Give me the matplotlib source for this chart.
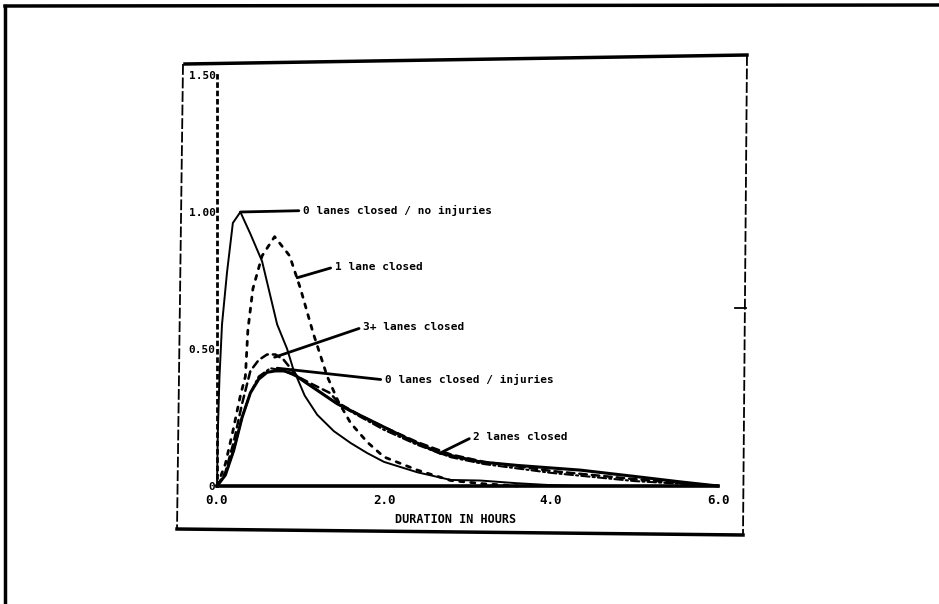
import matplotlib
matplotlib.use("Agg")
import matplotlib.pyplot as plt
from matplotlib.lines import Line2D

# ---------------- data (duration in hours vs. density) ----------------
x_no_inj = [0, 0.01, 0.03, 0.06, 0.12, 0.19, 0.28, 0.40, 0.54, 0.72, 0.84, 0.91, 1.05, 1.2,
            1.4, 1.6, 1.8, 2.0, 2.4, 2.8, 3.15, 3.6, 3.95, 4.3]
y_no_inj = [0, 0.20, 0.40, 0.59, 0.78, 0.96, 1.00, 0.92, 0.82, 0.59, 0.50, 0.43, 0.33, 0.26,
            0.20, 0.157, 0.12, 0.088, 0.05, 0.022, 0.02, 0.01, 0.004, 0.0]

x_one = [0, 0.1, 0.19, 0.28, 0.34, 0.37, 0.43, 0.54, 0.69, 0.87, 1.0, 1.15, 1.32, 1.45,
         1.6, 1.8, 2.0, 2.4, 2.8, 3.2, 3.6]
y_one = [0, 0.08, 0.20, 0.33, 0.40, 0.57, 0.72, 0.84, 0.91, 0.84, 0.72, 0.56, 0.40, 0.31,
         0.23, 0.16, 0.106, 0.058, 0.02, 0.008, 0.0]

x_three = [0, 0.1, 0.2, 0.3, 0.40, 0.5, 0.6, 0.7, 0.8, 0.96, 1.15, 1.35, 1.47, 1.7, 2.0,
           2.4, 2.8, 3.2, 4.0, 5.0, 6.0]
y_three = [0, 0.05, 0.16, 0.30, 0.42, 0.46, 0.48, 0.48, 0.46, 0.40, 0.37, 0.34, 0.30, 0.26,
           0.215, 0.16, 0.115, 0.088, 0.055, 0.025, 0.0]

x_inj = [0, 0.1, 0.2, 0.3, 0.4, 0.5, 0.64, 0.8, 0.95, 1.2, 1.44, 1.7, 2.0, 2.4, 2.8, 3.2,
         4.0, 5.0, 6.0]
y_inj = [0, 0.04, 0.13, 0.25, 0.34, 0.40, 0.43, 0.42, 0.40, 0.35, 0.30, 0.255, 0.205, 0.15,
         0.105, 0.08, 0.048, 0.018, 0.0]

x_two = [0, 0.1, 0.2, 0.3, 0.4, 0.5, 0.6, 0.7, 0.8, 0.91, 1.1, 1.44, 1.7, 2.0, 2.3, 2.67,
         3.15, 3.6, 4.35, 5.0, 5.55, 6.0]
y_two = [0, 0.04, 0.13, 0.25, 0.34, 0.39, 0.415, 0.42, 0.42, 0.41, 0.37, 0.30, 0.26, 0.215,
         0.17, 0.12, 0.088, 0.075, 0.058, 0.035, 0.015, 0.0]

x_ticks = [0.0, 2.0, 4.0, 6.0]
x_tick_labels = ["0.0", "2.0", "4.0", "6.0"]
y_ticks = [0, 0.5, 1.0, 1.5]
y_tick_labels = ["0", "0.50", "1.00", "1.50"]

labels = ["0 lanes closed / no injuries", "1 lane closed", "3+ lanes closed",
          "0 lanes closed / injuries", "2 lanes closed"]

# ---------------- figure ----------------
W, H = 939, 604
fig = plt.figure(figsize=(W / 100, H / 100), dpi=100)
fig.patch.set_facecolor("white")
FONT = "DejaVu Sans Mono"


def fx(px):
    return px / W


def fy(py):
    return 1 - py / H


def fline(xs, ys, lw=2.0, ls="-"):
    fig.add_artist(Line2D([fx(v) for v in xs], [fy(v) for v in ys], color="black",
                          lw=lw, ls=ls, transform=fig.transFigure))


# outer page frame (left and top only)
fline([5, 5], [604, 6], lw=2.5)
fline([5, 939], [6, 5], lw=2.5)

# inner chart box (slightly skewed like the scan)
fline([185, 747], [64, 55], lw=2.5)
fline([183, 177], [64, 530], lw=1.3, ls=(0, (6, 1.5)))
fline([177, 743], [529, 535], lw=2.5)
fline([747, 743], [55, 535], lw=1.3, ls=(0, (6, 1.5)))
fline([735, 746], [308, 308], lw=1.3)

# plotting axes
ax = fig.add_axes([fx(217), fy(486), (718 - 217) / W, (486 - 75) / H])
ax.set_xlim(0, 6)
ax.set_ylim(0, 1.5)
ax.patch.set_alpha(0)
for s in ("top", "right"):
    ax.spines[s].set_visible(False)
ax.spines["left"].set_linestyle((0, (1, 2)))
ax.spines["left"].set_linewidth(2.0)
ax.spines["bottom"].set_linewidth(2.6)

ax.set_xticks(x_ticks)
ax.set_xticklabels(x_tick_labels, fontfamily=FONT, fontsize=9, fontweight="bold")
ax.set_yticks(y_ticks)
ax.set_yticklabels(y_tick_labels, fontfamily=FONT, fontsize=8, fontweight="bold")
ax.tick_params(axis="both", length=0)
ax.tick_params(axis="x", pad=6)
ax.tick_params(axis="y", pad=1)

ax.set_xlabel("DURATION IN HOURS", fontfamily=FONT, fontsize=8.5, fontweight="bold")
ax.xaxis.set_label_coords(0.477, -0.065)

kw = dict(color="black", clip_on=False, solid_capstyle="round", dash_capstyle="round")
ax.plot(x_no_inj, y_no_inj, lw=1.4, ls="-", **kw)
ax.plot(x_one, y_one, lw=2.0, ls=(0, (1.5, 2.5)), **kw)
ax.plot(x_three, y_three, lw=1.8, ls=(0, (3, 2)), **kw)
ax.plot(x_inj, y_inj, lw=1.5, ls=(0, (4, 1.5, 1, 1.5)), **kw)
ax.plot(x_two, y_two, lw=2.2, ls="-", **kw)

# labels with leader lines
anchor_pts = [(0.28, 1.0), (0.96, 0.76), (0.69, 0.47), (0.72, 0.43), (2.67, 0.12)]
text_pts = [(1.03, 1.005), (1.41, 0.80), (1.75, 0.58), (2.01, 0.387), (3.07, 0.18)]
for lab, a, t in zip(labels, anchor_pts, text_pts):
    ax.annotate(lab, xy=a, xytext=t, fontfamily=FONT, fontsize=8, fontweight="bold",
                va="center", ha="left",
                arrowprops=dict(arrowstyle="-", color="black", lw=2.0,
                                shrinkA=1, shrinkB=0, relpos=(0, 0.5)),
                annotation_clip=False)

fig.savefig("out.png", dpi=100, facecolor="white")
